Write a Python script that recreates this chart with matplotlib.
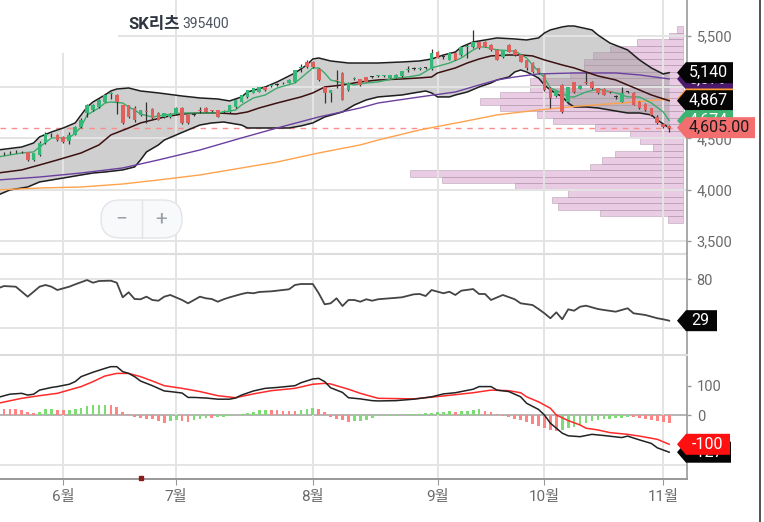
import numpy as np
import pandas as pd
import matplotlib
matplotlib.use("Agg")
import matplotlib.pyplot as plt
from matplotlib.patches import Rectangle, Polygon, FancyBboxPatch

plt.rcParams['font.family'] = ['Roboto', 'Noto Sans CJK KR', 'DejaVu Sans']

# KRX trading days on screen, 2024-05-17 .. 2024-11-04
krx_holidays = pd.to_datetime(['2024-06-06', '2024-08-15', '2024-09-16', '2024-09-17',
                               '2024-09-18', '2024-10-01', '2024-10-03', '2024-10-09'])
dates = pd.bdate_range('2024-05-17', '2024-11-04')
dates = dates[~dates.isin(krx_holidays)]

opens = [4340, 4345, 4355, 4365, 4370, 4365, 4295, 4340, 4455, 4535,
         4530, 4515, 4480, 4535, 4610, 4750, 4780, 4805, 4855, 4930,
         4920, 4825, 4825, 4800, 4730, 4760, 4790, 4745, 4705, 4705,
         4735, 4800, 4725, 4730, 4770, 4800, 4770, 4775, 4760, 4755,
         4805, 4855, 4900, 4945, 4955, 5000, 5010, 5020, 5035, 5040,
         5050, 5185, 5245, 5245, 5180, 5000, 4945, 5070, 5135, 4970,
         5080, 5075, 5095, 5095, 5105, 5105, 5090, 5090, 5105, 5165,
         5180, 5180, 5190, 5175, 5340, 5290, 5265, 5330, 5310, 5390,
         5390, 5440, 5440, 5410, 5360, 5290, 5410, 5360, 5310, 5260,
         5230, 5185, 5120, 4990, 4910, 5020, 4850, 5045, 4985, 5045,
         5050, 4990, 4985, 4955, 4905, 4855, 4950, 4945, 4855, 4840,
         4795, 4710, 4640, 4620]
highs = [4365, 4365, 4375, 4385, 4380, 4370, 4360, 4480, 4560, 4555,
         4545, 4520, 4565, 4620, 4700, 4835, 4840, 4880, 4930, 4955,
         4930, 4830, 4830, 4820, 4780, 4850, 4800, 4755, 4750, 4745,
         4805, 4805, 4730, 4745, 4805, 4805, 4780, 4780, 4775, 4830,
         4880, 4925, 4975, 4995, 5005, 5010, 5030, 5035, 5050, 5075,
         5170, 5220, 5260, 5255, 5185, 5010, 4975, 5165, 5150, 5045,
         5100, 5080, 5100, 5105, 5120, 5120, 5120, 5125, 5160, 5205,
         5195, 5195, 5200, 5370, 5350, 5310, 5340, 5340, 5395, 5420,
         5560, 5450, 5450, 5420, 5370, 5365, 5420, 5370, 5320, 5265,
         5240, 5190, 5125, 5000, 4965, 5030, 5005, 5050, 5020, 5145,
         5055, 4995, 4990, 4965, 4925, 5000, 4960, 4950, 4860, 4845,
         4800, 4730, 4645, 4630]
lows = [4330, 4335, 4345, 4355, 4355, 4280, 4285, 4330, 4445, 4515,
        4480, 4460, 4450, 4530, 4605, 4710, 4770, 4800, 4850, 4880,
        4740, 4640, 4700, 4660, 4720, 4650, 4690, 4675, 4695, 4700,
        4730, 4640, 4645, 4720, 4750, 4755, 4760, 4705, 4750, 4750,
        4800, 4850, 4895, 4940, 4950, 4965, 5000, 5010, 5025, 5035,
        5045, 5150, 5190, 5185, 5060, 4845, 4855, 4995, 4870, 4965,
        5070, 5015, 5045, 5085, 5095, 5095, 5085, 5085, 5100, 5150,
        5170, 5170, 5180, 5170, 5280, 5270, 5260, 5260, 5305, 5285,
        5380, 5375, 5385, 5355, 5260, 5285, 5340, 5305, 5240, 5165,
        5140, 5130, 4965, 4795, 4900, 4750, 4840, 4945, 4980, 5030,
        4985, 4935, 4920, 4945, 4880, 4850, 4940, 4825, 4790, 4770,
        4720, 4640, 4600, 4560]
closes = [4350, 4350, 4360, 4370, 4365, 4290, 4355, 4455, 4545, 4530,
          4485, 4470, 4530, 4610, 4680, 4830, 4825, 4870, 4920, 4935,
          4855, 4650, 4710, 4680, 4775, 4755, 4700, 4680, 4745, 4740,
          4800, 4650, 4650, 4730, 4765, 4760, 4765, 4710, 4765, 4825,
          4875, 4920, 4970, 4990, 5000, 4970, 5015, 5020, 5040, 5070,
          5165, 5190, 5195, 5200, 5065, 4940, 4970, 5060, 4875, 5040,
          5085, 5020, 5050, 5095, 5110, 5110, 5115, 5120, 5155, 5170,
          5180, 5185, 5190, 5330, 5285, 5290, 5330, 5265, 5390, 5395,
          5440, 5380, 5390, 5360, 5265, 5360, 5345, 5310, 5245, 5185,
          5145, 5135, 4970, 4895, 4960, 4760, 5000, 4950, 5015, 5040,
          4990, 4940, 4925, 4950, 4905, 4945, 4950, 4830, 4795, 4775,
          4725, 4650, 4615, 4605]

# indicator lines, read at the marked trading-day indices
bb_up_idx = [0, 4, 6, 7, 9, 11, 13, 14, 15, 16, 18, 19, 20, 22, 24, 27, 31, 34, 37, 39,
             41, 42, 45, 47, 50, 52, 53, 54, 56, 59, 62, 64, 68, 71, 73, 75, 77, 78, 80, 82,
             84, 87, 89, 91, 92, 93, 95, 96, 97, 100, 101, 103, 106, 108, 110, 112, 113]
bb_up = [4388, 4417, 4456, 4515, 4563, 4602, 4651, 4729, 4806, 4855, 4923, 4962, 4981, 4991, 4962, 4943, 4913, 4894, 4884, 4865,
         4904, 4952, 5001, 5050, 5137, 5215, 5273, 5283, 5254, 5234, 5234, 5234, 5244, 5254, 5273, 5312, 5341, 5390, 5439, 5458,
         5478, 5468, 5458, 5478, 5526, 5556, 5585, 5594, 5594, 5556, 5507, 5429, 5361, 5264, 5186, 5127, 5140]
bb_lo_idx = [0, 2, 5, 7, 9, 12, 14, 16, 18, 21, 23, 24, 25, 27, 28, 30, 32, 34, 36, 38,
             41, 42, 44, 46, 49, 51, 53, 55, 58, 60, 62, 64, 68, 70, 72, 73, 74, 76, 77, 79,
             81, 83, 84, 86, 87, 88, 89, 90, 91, 92, 93, 95, 96, 97, 99, 101, 104, 106, 108, 110,
             111, 112, 113]
bb_lo = [3950, 3999, 4028, 4077, 4096, 4125, 4145, 4164, 4174, 4194, 4223, 4291, 4369, 4437, 4485, 4534, 4583, 4631, 4651, 4660,
         4631, 4602, 4602, 4602, 4602, 4622, 4651, 4709, 4758, 4826, 4875, 4904, 4923, 4943, 4962, 4943, 4904, 4904, 4923, 4952,
         5001, 5040, 5069, 5098, 5147, 5166, 5147, 5118, 5088, 5020, 4972, 4904, 4845, 4806, 4806, 4797, 4767, 4748, 4748, 4729,
         4680, 4641, 4602]
ma20_idx = [0, 4, 7, 10, 14, 17, 19, 22, 24, 26, 28, 31, 34, 37, 40, 42, 44, 47, 51, 53,
            55, 58, 61, 64, 68, 71, 73, 74, 77, 79, 81, 83, 86, 88, 90, 92, 95, 97, 99, 101,
            104, 106, 108, 110, 113]
ma20 = [4164, 4194, 4242, 4291, 4359, 4437, 4534, 4602, 4651, 4680, 4709, 4738, 4748, 4748, 4738, 4758, 4797, 4845, 4904, 4943,
        5001, 5020, 5050, 5069, 5079, 5089, 5098, 5137, 5186, 5234, 5273, 5303, 5312, 5312, 5303, 5264, 5215, 5186, 5147, 5108,
        5069, 5020, 4972, 4923, 4867]
ma5_idx = [0, 4, 6, 7, 9, 12, 13, 14, 15, 17, 18, 19, 21, 22, 23, 24, 26, 28, 31, 33,
           35, 37, 40, 41, 43, 45, 47, 50, 51, 52, 53, 54, 55, 56, 58, 60, 62, 64, 67, 69,
           71, 73, 76, 78, 80, 81, 82, 84, 87, 89, 90, 92, 93, 95, 96, 97, 99, 101, 104, 106,
           108, 110, 112, 113]
ma5 = [4320, 4359, 4369, 4417, 4505, 4505, 4553, 4612, 4729, 4797, 4845, 4855, 4845, 4806, 4777, 4738, 4709, 4729, 4748, 4748,
       4748, 4748, 4777, 4826, 4894, 4923, 4991, 5040, 5088, 5137, 5186, 5186, 5137, 5069, 5040, 5020, 5040, 5050, 5088, 5098,
       5118, 5186, 5234, 5283, 5361, 5390, 5390, 5361, 5351, 5283, 5215, 5088, 4991, 4943, 4904, 4904, 4952, 4981, 4943, 4904,
       4904, 4845, 4758, 4674]
ma60_idx = [0, 7, 14, 21, 27, 34, 41, 47, 54, 61, 64, 71, 77, 81, 84, 87, 91, 97, 104, 108, 113]
ma60 = [4096, 4125, 4164, 4213, 4291, 4388, 4505, 4602, 4709, 4797, 4845, 4904, 4952, 5020, 5069, 5098, 5128, 5137, 5137, 5118, 5079]
ma120_idx = [0, 7, 14, 21, 27, 34, 41, 47, 54, 61, 64, 71, 78, 84, 91, 98, 105, 113]
ma120 = [3999, 4018, 4028, 4057, 4096, 4145, 4213, 4271, 4359, 4437, 4485, 4583, 4660, 4729, 4777, 4816, 4845, 4884]

# volume profile: bins of 63.8 won from 3,680 upward
vp_base = 3680
vp_step = 63.8
vp_volume = [15, 83, 125, 131, 115, 168, 241, 273, 93, 81, 68, 30, 43, 53, 88, 130, 146, 183, 203, 183,
             153, 153, 113, 99, 99, 90, 73, 46, 14, 6]

rsi_idx = [0, 1, 3, 5, 6, 7, 8, 9, 10, 11, 12, 13, 15, 16, 17, 19, 20, 21, 22, 23,
           24, 25, 26, 27, 28, 29, 31, 32, 33, 34, 35, 36, 37, 38, 39, 41, 42, 43, 44, 46,
           47, 49, 50, 51, 53, 54, 55, 56, 57, 58, 59, 60, 61, 62, 63, 64, 66, 68, 70, 71,
           72, 73, 75, 76, 77, 78, 80, 81, 82, 83, 85, 87, 88, 90, 91, 92, 93, 94, 95, 96,
           97, 98, 99, 101, 102, 104, 106, 107, 109, 111, 112, 113]
rsi = [68.9, 71.7, 70.9, 58.6, 64.7, 70.9, 73.0, 70.9, 66.8, 68.9, 70.9, 73.8, 79.1, 75.8, 77.9, 78.3, 75.8, 57.8, 64.0, 55.7,
       55.4, 58.6, 54.5, 53.6, 58.6, 60.7, 54.5, 50.4, 54.5, 58.6, 56.6, 55.7, 52.4, 55.4, 57.8, 61.9, 63.5, 62.8, 64.4, 65.2,
       66.0, 67.7, 73.0, 74.2, 74.2, 62.8, 49.2, 50.4, 56.6, 47.1, 54.5, 54.5, 52.4, 55.4, 53.6, 55.4, 56.6, 57.8, 61.5, 61.9,
       59.4, 66.8, 62.8, 64.7, 60.7, 66.0, 68.0, 61.9, 61.9, 54.5, 60.7, 55.4, 50.4, 48.3, 43.4, 38.1, 32.0, 39.3, 30.7, 43.0,
       41.3, 46.2, 47.5, 43.4, 42.2, 40.1, 44.3, 38.1, 36.0, 32.0, 30.7, 29.0]

macd_idx = [0, 2, 4, 5, 6, 7, 9, 10, 12, 13, 14, 16, 18, 19, 20, 21, 22, 23, 24, 26,
            28, 29, 31, 32, 33, 35, 37, 39, 40, 41, 43, 45, 47, 50, 51, 53, 54, 55, 56, 58,
            59, 61, 63, 64, 67, 70, 73, 75, 77, 80, 81, 83, 84, 86, 88, 89, 91, 92, 93, 95,
            96, 98, 100, 102, 105, 106, 108, 110, 111, 113]
macd = [60, 71, 74, 68, 71, 85, 94, 97, 105, 114, 131, 146, 159, 165, 165, 148, 142, 131, 116, 100,
        82, 80, 75, 60, 60, 58, 54, 54, 58, 68, 82, 91, 94, 100, 110, 123, 125, 114, 93, 77,
        59, 55, 49, 48, 49, 54, 62, 72, 76, 88, 97, 97, 85, 80, 62, 40, 19, 0, -28, -62,
        -71, -74, -66, -70, -77, -72, -85, -97, -112, -127]
sig_idx = [0, 4, 7, 10, 14, 16, 18, 20, 22, 24, 26, 28, 31, 34, 37, 40, 43, 46, 50, 53,
           55, 56, 59, 61, 64, 70, 75, 80, 83, 86, 88, 89, 91, 93, 94, 96, 98, 99, 101, 103,
           106, 108, 111, 113]
sig = [40, 57, 66, 74, 97, 114, 133, 142, 142, 131, 116, 100, 91, 80, 66, 59, 72, 83, 91, 105,
       108, 106, 88, 74, 57, 55, 65, 76, 85, 83, 76, 62, 45, 23, 0, -19, -34, -45, -51, -60,
       -66, -72, -83, -100]
hist = [22, 22, 21, 20, 17, 10, 8, 11, 19, 21,
        18, 16, 18, 21, 24, 31, 33, 34, 35, 33,
        26, 10, 2, -6, -10, -12, -14, -22, -26, -20,
        -17, -19, -23, -18, -13, -9, -10, -8, -6, -4,
        -1, 2, 8, 11, 16, 18, 17, 16, 15, 14,
        13, 17, 22, 24, 21, 9, -6, -14, -17, -24,
        -21, -19, -16, -9, -5, -4, -3, -2, 0, 2,
        3, 5, 6, 8, 9, 11, 12, 11, 13, 15,
        17, 19, 14, 10, 4, -2, -6, -12, -18, -24,
        -30, -36, -43, -50, -56, -52, -46, -40, -33, -26,
        -20, -17, -15, -13, -11, -9, -6, -8, -11, -14,
        -17, -20, -23, -26]
event_dates = ['2024-06-21']

# ---------------------------------------------------------------
W, H = 764, 522
fig = plt.figure(figsize=(W / 100, H / 100), dpi=100)
fig.patch.set_facecolor('white')


def rect(top, bottom, right=687):
    return [0, 1 - bottom / H, right / W, (bottom - top) / H]


grid_c = '#e4e4e4'
tick_c = '#6b6b6b'
x = np.arange(len(dates))
months = pd.Series(dates.month)
month_idx = [i for i in range(1, len(dates)) if months[i] != months[i - 1]]
month_lab = [f"{dates[i].month}월" for i in month_idx]

vp = fig.add_axes(rect(0, 254))
ax = fig.add_axes(rect(0, 254))
ax_rsi = fig.add_axes(rect(254, 355))
ax_macd = fig.add_axes(rect(355, 478.7))
vp.set_zorder(0)
ax.set_zorder(1)
ax.patch.set_visible(False)

for a in (ax, ax_rsi, ax_macd):
    a.set_xlim(0.34, 116.0)
    a.set_xticks(month_idx)
    a.grid(axis='x', color=grid_c, lw=1.4, zorder=0)
    a.yaxis.tick_right()
    a.tick_params(axis='y', length=3, width=1, color='#999', pad=4, labelsize=10.5, labelcolor=tick_c)
    a.tick_params(axis='x', length=0, labelbottom=False)
    for s in ('left', 'top', 'bottom'):
        a.spines[s].set_visible(False)
    a.spines['right'].set_color('#999')
    a.spines['right'].set_linewidth(1.2)

# ---- price panel
ax.set_ylim(3376, 5847)
ax.set_yticks([3500, 4000, 4500, 5000, 5500])
ax.set_yticklabels([f"{v:,}" for v in [3500, 4000, 4500, 5000, 5500]])
ax.grid(axis='y', color=grid_c, lw=1.4, zorder=0)

vp.set_ylim(3376, 5847)
vp.set_xlim(683, -4)
vp.axis('off')
vp_y = vp_base + vp_step * (np.arange(len(vp_volume)) + 0.5)
vp.barh(vp_y, vp_volume, height=vp_step, left=0, color='#d49ac8', alpha=0.5,
        edgecolor='#a48c9f', linewidth=0.6)

bb_x = np.arange(len(dates))
up_line = np.interp(bb_x, bb_up_idx, bb_up)
lo_line = np.interp(bb_x, bb_lo_idx, bb_lo)
ax.fill_between(bb_x, lo_line, up_line, color='#a0a0a0', alpha=0.5, lw=0, zorder=1)
ax.plot(bb_up_idx, bb_up, color='#1e1e1e', lw=1.1, zorder=3)
ax.plot(bb_lo_idx, bb_lo, color='#1e1e1e', lw=1.1, zorder=3)
ax.plot(ma120_idx, ma120, color='#ffa24c', lw=1.0, zorder=3)
ax.plot(ma60_idx, ma60, color='#6b3fa0', lw=1.0, zorder=3)
ax.plot(ma20_idx, ma20, color='#3b1010', lw=1.1, zorder=3)
ax.plot(ma5_idx, ma5, color='#3daa6a', lw=1.0, zorder=3)
ax.axhline(closes[-1], color='#ff8c8c', lw=1.0, dashes=(4, 4), zorder=2)

o = np.array(opens)
c = np.array(closes)
body_col = np.where(c > o, '#35b777', np.where(c < o, '#e0605c', '#333333'))
ax.vlines(x, lows, highs, color='#333', lw=0.9, zorder=4)
ax.bar(x, np.maximum(np.abs(c - o), 8), bottom=np.minimum(o, c), width=0.62,
       color=body_col, zorder=5)

# ---- RSI panel
ax_rsi.set_ylim(-13.3, 111.2)
ax_rsi.set_yticks([20, 80])
ax_rsi.set_yticklabels(['', '80'])
ax_rsi.grid(axis='y', color=grid_c, lw=1.4, zorder=0)
ax_rsi.spines['top'].set_visible(True)
ax_rsi.spines['top'].set_color('#dcdcdc')
ax_rsi.spines['top'].set_linewidth(1.5)
ax_rsi.plot(rsi_idx, rsi, color='#444', lw=1.3)

# ---- MACD panel
ax_macd.set_ylim(-217.4, 204.8)
ax_macd.set_yticks([0, 100])
ax_macd.axhline(0, color='#a8a8a8', lw=1.2, zorder=1)
ax_macd.axhline(-170, color=grid_c, lw=1.4, zorder=0)
ax_macd.spines['top'].set_visible(True)
ax_macd.spines['top'].set_color('#dcdcdc')
ax_macd.spines['top'].set_linewidth(1.5)
ax_macd.spines['bottom'].set_visible(True)
ax_macd.spines['bottom'].set_color('#999')
ax_macd.spines['bottom'].set_linewidth(1.4)
h = np.array(hist)
rising = np.concatenate([[False], h[1:] > h[:-1]])
ax_macd.bar(x, h, width=0.45, color=np.where(rising, '#7ddc74', '#ff8585'), zorder=2)
ax_macd.plot(sig_idx, sig, color='#ff2a2a', lw=1.1, zorder=3)
ax_macd.plot(macd_idx, macd, color='#222', lw=1.1, zorder=3)
ev_x = [dates.get_loc(pd.Timestamp(d)) for d in event_dates]
ax_macd.plot(ev_x, [-217.4 + 3] * len(ev_x), 's', ms=3, color='#8b1a1a', clip_on=False, zorder=5)
ax_macd.tick_params(axis='x', length=4, color='#999', labelbottom=True, labelsize=11,
                    labelcolor=tick_c, pad=4)
ax_macd.set_xticklabels(month_lab)

# ---- overlay: tags, title, zoom control
ov = fig.add_axes([0, 0, 1, 1])
ov.set_xlim(0, W)
ov.set_ylim(H, 0)
ov.axis('off')
ov.set_zorder(10)


def tag(axis, value, text, fc, tc='white', w=47, z=10):
    ypx = H - axis.transData.transform((0, value))[1]
    hh = 10.5
    ov.add_patch(Polygon([(677, ypx), (686, ypx - hh), (686 + w, ypx - hh),
                          (686 + w, ypx + hh), (686, ypx + hh)], closed=True,
                         fc=fc, ec='none', zorder=z))
    ov.text(686 + w / 2 - 1, ypx, text, color=tc, fontsize=11.5, ha='center',
            va='center', zorder=z + 0.5)


tag(ax, ma60[-1], f"{ma60[-1]:,}", '#4b1a6b', z=10)
tag(ax, bb_up[-1], f"{bb_up[-1]:,}", '#050505', z=11)
tag(ax, ma120[-1], f"{ma120[-1]:,}", '#ff9933', z=12)
tag(ax, ma20[-1], f"{ma20[-1]:,}", '#050505', z=13)
tag(ax, ma5[-1], f"{ma5[-1]:,}", '#3cb371', z=14)
tag(ax, closes[-1], f"{closes[-1]:,.2f}", '#f36f6f', tc='#1a1a1a', w=69, z=15)
tag(ax_rsi, rsi[-1], f"{rsi[-1]:.0f}", '#050505', w=31, z=10)
tag(ax_macd, macd[-1], f"{macd[-1]}", '#050505', w=45, z=10)
tag(ax_macd, sig[-1], f"{sig[-1]}", '#ff1010', w=44, z=11)

ov.add_patch(Rectangle((0, 0), 118, 53, fc='white', ec='none', zorder=1))
ov.text(128, 24, "SK리츠", fontsize=12, fontweight='bold', color='#2d3540',
        ha='left', va='center', zorder=2)
ov.text(182, 24.5, "395400", fontsize=10, color='#4a5260', ha='left', va='center', zorder=2)

ov.add_patch(FancyBboxPatch((101, 200), 81, 38, boxstyle="round,pad=0,rounding_size=19",
                            fc='#f8f9fa', ec='#e2e4e8', lw=1, zorder=2))
ov.plot([141.5, 141.5], [200, 238], color='#e2e4e8', lw=1, zorder=3)
ov.text(121, 219, "−", fontsize=15, color='#9aa0a6', ha='center', va='center', zorder=3)
ov.text(161, 219, "+", fontsize=15, color='#9aa0a6', ha='center', va='center', zorder=3)
ov.plot([760, 760], [0, H], color='#333', lw=1.2, zorder=3)

fig.savefig('out.png', dpi=100)
